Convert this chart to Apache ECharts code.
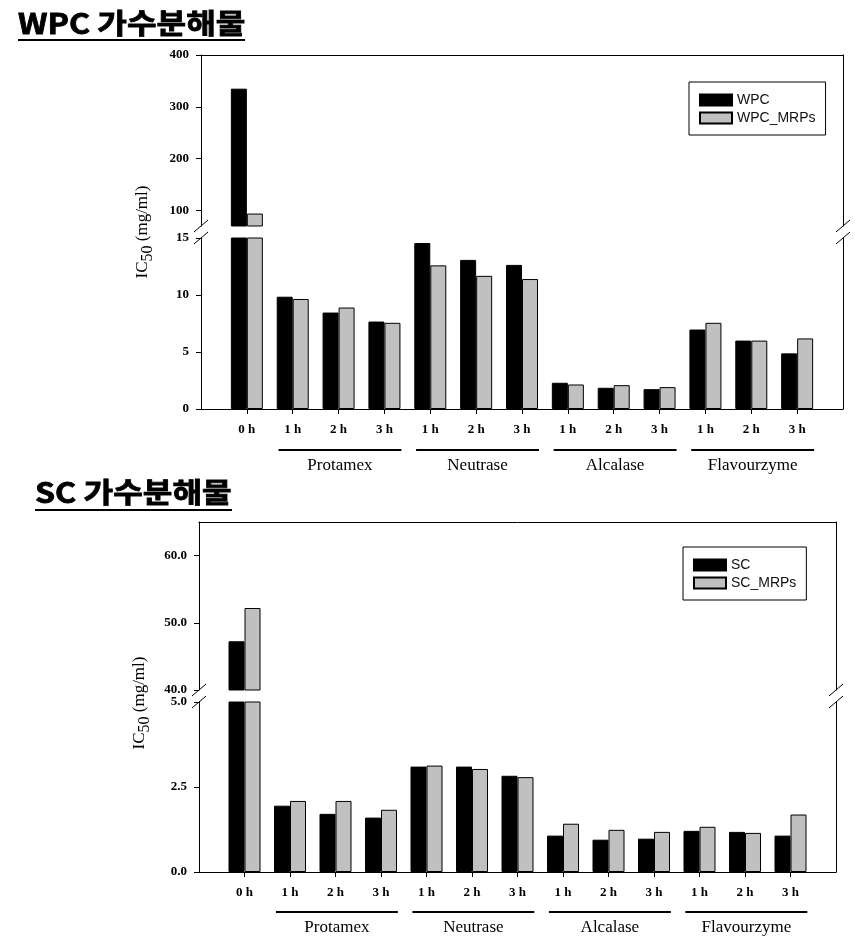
<!DOCTYPE html>
<html><head><meta charset="utf-8">
<script src="https://cdn.jsdelivr.net/npm/echarts@6/dist/echarts.min.js"></script>
<style>html,body{margin:0;padding:0;background:#fff}#c{width:855px;height:948px}</style>
</head><body><div id="c"></div>
<script>
// ---- data ----
const categories = ['0 h','1 h','2 h','3 h','1 h','2 h','3 h','1 h','2 h','3 h','1 h','2 h','3 h'];
const enzymeGroups = ['Protamex','Neutrase','Alcalase','Flavourzyme'];
const groupSpans = [[1,3],[4,6],[7,9],[10,12]];
const wpc      = [335, 9.85, 8.46, 7.67, 14.56, 13.08, 12.64, 2.30, 1.86, 1.74, 6.97, 6.00, 4.88];
const wpcMrps  = [94,  9.65, 8.90, 7.56, 12.60, 11.68, 11.40, 2.15, 2.09, 1.92, 7.56, 6.00, 6.19];
const sc       = [47.25, 1.95, 1.71, 1.60, 3.10, 3.10, 2.83, 1.07, 0.95, 0.98, 1.21, 1.18, 1.07];
const scMrps   = [52.2,  2.09, 2.09, 1.83, 3.13, 3.03, 2.79, 1.42, 1.24, 1.18, 1.33, 1.15, 1.69];
const wpcUpperTicks = [100, 200, 300, 400];
const wpcLowerTicks = [0, 5, 10, 15];
const scUpperTicks = [40, 50, 60];
const scLowerTicks = [0, 2.5, 5];
const titles = ['WPC 가수분해물', 'SC 가수분해물'];
const yTitleParts = ['IC', '50', ' (mg/ml)'];

// ---- layout ----
const SERIF = '"Liberation Serif","Times New Roman",serif';
const SANS = '"Liberation Sans",Arial,sans-serif';
const panels = [
  {left:201, right:843, upTop:55, upBot:226, lowTop:238, lowBot:409, upRange:[70,400], lowRange:[0,15],
   upTicks:wpcUpperTicks, lowTicks:wpcLowerTicks, fmt:v=>String(v), names:['WPC','WPC_MRPs'], data:[wpc,wpcMrps],
   legend:{left:689, top:82}, title:{x:18, y:23.5, ux2:245, uy:40}, ytitle:{x:143, y:232}, groupLineY:450, groupLabelY:466},
  {left:199, right:836, upTop:522, upBot:690, lowTop:702, lowBot:872, upRange:[40,65], lowRange:[0,5],
   upTicks:scUpperTicks, lowTicks:scLowerTicks, fmt:v=>v.toFixed(1), names:['SC','SC_MRPs'], data:[sc,scMrps],
   legend:{left:683, top:547}, title:{x:35, y:492.5, ux2:232, uy:510}, ytitle:{x:140, y:703}, groupLineY:912, groupLabelY:928}
];
const colors = ['#000000', '#c0c0c0'];
const axisCats = ['', ...categories, ''];
const padded = arr => ['-', ...arr, '-'];

const grid = [], xAxis = [], yAxis = [], series = [], legend = [];
panels.forEach((p, pi) => {
  const w = p.right - p.left;
  grid.push({left:p.left, width:w, top:p.upTop, height:p.upBot - p.upTop});
  grid.push({left:p.left, width:w, top:p.lowTop, height:p.lowBot - p.lowTop});
  const gU = 2*pi, gL = 2*pi + 1;
  xAxis.push({type:'category', gridIndex:gU, data:axisCats, boundaryGap:false, position:'top',
    axisLine:{lineStyle:{color:'#000', width:1}}, axisTick:{show:false}, axisLabel:{show:false}, splitLine:{show:false}});
  xAxis.push({type:'category', gridIndex:gL, data:axisCats, boundaryGap:false, position:'bottom',
    axisLine:{lineStyle:{color:'#000', width:1}},
    axisTick:{show:true, length:5, interval:(i)=> i>0 && i<axisCats.length-1, lineStyle:{color:'#000'}},
    axisLabel:{interval:0, margin:14, color:'#000', fontFamily:SERIF, fontWeight:'bold', fontSize:13},
    splitLine:{show:false}});
  const yBase = {type:'value', splitLine:{show:false}, axisLine:{show:true, lineStyle:{color:'#000', width:1}}};
  yAxis.push(Object.assign({}, yBase, {gridIndex:gU, min:p.upRange[0], max:p.upRange[1],
    axisTick:{show:true, length:5, customValues:p.upTicks, lineStyle:{color:'#000'}},
    axisLabel:{customValues:p.upTicks, formatter:p.fmt, margin:12, color:'#000', fontFamily:SERIF, fontWeight:'bold', fontSize:13}}));
  yAxis.push(Object.assign({}, yBase, {gridIndex:gL, min:p.lowRange[0], max:p.lowRange[1],
    axisTick:{show:true, length:5, customValues:p.lowTicks, lineStyle:{color:'#000'}},
    axisLabel:{customValues:p.lowTicks, formatter:p.fmt, margin:12, color:'#000', fontFamily:SERIF, fontWeight:'bold', fontSize:13}}));
  yAxis.push(Object.assign({}, yBase, {gridIndex:gU, position:'right', min:p.upRange[0], max:p.upRange[1], axisTick:{show:false}, axisLabel:{show:false}}));
  yAxis.push(Object.assign({}, yBase, {gridIndex:gL, position:'right', min:p.lowRange[0], max:p.lowRange[1], axisTick:{show:false}, axisLabel:{show:false}}));
  p.names.forEach((nm, si) => {
    const vals = p.data[si];
    const style = {color:colors[si], borderColor:'#000', borderWidth:1};
    series.push({type:'bar', name:nm, xAxisIndex:gU, yAxisIndex:4*pi, barWidth:16, barGap:'0%', clip:true,
      itemStyle:style, data:padded(vals.map(v => v >= p.upRange[0] ? v : '-'))});
    series.push({type:'bar', name:nm, xAxisIndex:gL, yAxisIndex:4*pi+1, barWidth:16, barGap:'0%', clip:true,
      itemStyle:style, data:padded(vals)});
  });
  legend.push({data:p.names, orient:'vertical', left:p.legend.left, top:p.legend.top, icon:'rect',
    itemWidth:32, itemHeight:11, itemGap:4, borderColor:'#000', borderWidth:1, padding:[11,10,10,10],
    selectedMode:false, textStyle:{fontFamily:SANS, fontSize:14, color:'#111', lineHeight:14}});
});

const chart = echarts.init(document.getElementById('c'));
chart.setOption({animation:false, backgroundColor:'#fff', grid, xAxis, yAxis, series, legend});

// ---- decorations ----
const ctx = document.createElement('canvas').getContext('2d');
const measure = (font, t) => { ctx.font = font; return ctx.measureText(t).width; };
const graphic = [];
const line = (x1,y1,x2,y2,lw) => ({type:'line', silent:true, shape:{x1,y1,x2,y2}, style:{stroke:'#000', lineWidth:lw||1}});
panels.forEach((p, pi) => {
  // title + underline
  graphic.push({type:'text', x:p.title.x, y:p.title.y, scaleX:1.15, silent:true,
    style:{text:titles[pi], font:'bold 28px "Noto Sans CJK KR"', fill:'#000', stroke:'#000', lineWidth:0.8,
      align:'left', verticalAlign:'middle'}});
  graphic.push(line(p.title.x, p.title.uy, p.title.ux2, p.title.uy, 2));
  // rotated y title with subscript
  const fonts = ['17px ' + SERIF, '16px ' + SERIF, '17px ' + SERIF];
  const shifts = [0, 5, 0];
  const widths = yTitleParts.map((t, i) => measure(fonts[i], t));
  const total = widths.reduce((a, b) => a + b, 0);
  let yy = p.ytitle.y + total / 2;
  yTitleParts.forEach((t, i) => {
    graphic.push({type:'text', x:p.ytitle.x + shifts[i], y:yy, rotation:Math.PI/2, silent:true,
      style:{text:t, font:fonts[i], fill:'#000', align:'left', verticalAlign:'middle'}});
    yy -= widths[i];
  });
  // break marks
  [p.left, p.right].forEach(x => {
    [p.upBot, p.lowTop].forEach(y => graphic.push(line(x-7, y+6, x+7, y-6, 1)));
  });
  // enzyme group lines and labels
  const ax = 2*pi + 1;
  const xp = i => chart.convertToPixel({xAxisIndex:ax}, i);
  const sp = xp(2) - xp(1);
  groupSpans.forEach((s, gi) => {
    const x1 = xp(s[0]+1) - 0.31*sp, x2 = xp(s[1]+1) + 0.37*sp;
    graphic.push(line(x1, p.groupLineY, x2, p.groupLineY, 2));
    graphic.push({type:'text', x:(x1+x2)/2, y:p.groupLabelY, silent:true,
      style:{text:enzymeGroups[gi], fontFamily:SERIF, fontSize:17, fill:'#000', align:'center', verticalAlign:'middle'}});
  });
});
chart.setOption({graphic});
</script>
</body></html>
